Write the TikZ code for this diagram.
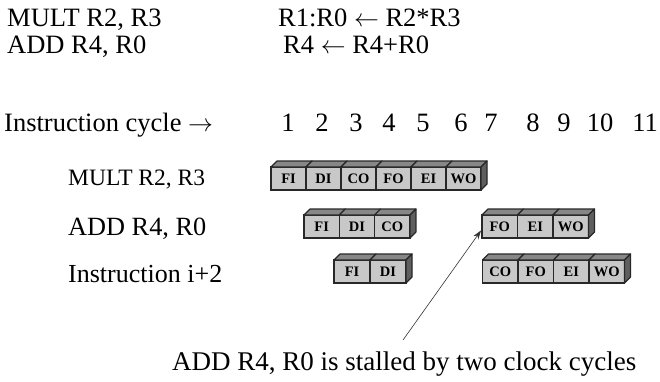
\documentclass[tikz,border=0pt]{standalone}
\usepackage{fontspec}
\setmainfont{Liberation Serif}
\usetikzlibrary{arrows.meta,calc}

\definecolor{frontgray}{RGB}{200,200,200}
\definecolor{topgray}{RGB}{135,135,135}
\definecolor{sidegray}{RGB}{95,95,95}
\definecolor{edgegray}{RGB}{40,40,40}

% one row segment of pipeline stage boxes: name, left x, top y, box width, labels
\newcommand\stagerow[5]{%
  \foreach \lab [count=\i] in {#5} {
    \node[stg,minimum width=#4pt] (#1-\i) at ({#2+(\i-1)*#4},#3) {\lab};
    \filldraw[topface] (#1-\i.north west) -- ++(6,-6)
      -- ($(#1-\i.north east)+(6,-6)$) -- (#1-\i.north east) -- cycle;
    \xdef\laststage{#1-\i}
  }
  \filldraw[sideface] (\laststage.north east) -- ++(6,-6)
    -- ($(\laststage.south east)+(6,-6)$) -- (\laststage.south east) -- cycle;
}

\begin{document}
\begin{tikzpicture}[x=1pt,y=-1pt,
  txt/.style={anchor=base west,inner sep=0pt,font=\fontsize{26.5}{30}\selectfont},
  num/.style={anchor=base,inner sep=0pt,font=\fontsize{26.5}{30}\selectfont},
  stg/.style={draw=edgegray,line width=1.3pt,fill=frontgray,minimum height=23pt,
    inner sep=0pt,outer sep=0pt,anchor=north west,
    font=\fontsize{14.5}{15}\selectfont\bfseries},
  topface/.style={fill=topgray,draw=edgegray,line width=1.2pt,line join=round},
  sideface/.style={fill=sidegray,draw=edgegray,line width=1.2pt,line join=round},
  stall/.style={draw=black!80,line width=0.6pt,-{Stealth[length=9pt,width=6pt]}}]

\useasboundingbox (0,0) rectangle (660,381);

% program and register transfers
\node[txt] (prog1) at (7,26.7) {MULT R2, R3};
\node[txt] (xfer1) at (278,26.7) {R1:R0 $\leftarrow$ R2*R3};
\node[txt] (prog2) at (7,53.5) {ADD R4, R0};
\node[txt] (xfer2) at (283,53.5) {R4 $\leftarrow$ R4+R0};

% cycle axis
\node[txt] (axis) at (4,131.7) {Instruction cycle $\rightarrow$};
\foreach \n/\xx in {1/288,2/322,3/356,4/389,5/423,6/461,7/491,8/533,9/564,10/600,11/645}
  \node[num] (cyc\n) at (\xx,131.7) {\n};

% instruction labels
\node[txt,font=\fontsize{23.5}{26}\selectfont] (lab1) at (68,185) {MULT R2, R3};
\node[txt,font=\fontsize{26.3}{30}\selectfont] (lab2) at (68,235) {ADD R4, R0};
\node[txt,font=\fontsize{26}{30}\selectfont] (lab3) at (68,282.7) {Instruction i+2};

% pipeline stages
\stagerow{mul}{271}{167}{35}{FI,DI,CO,FO,EI,WO}
\stagerow{adda}{304}{215}{35.3}{FI,DI,CO}
\stagerow{addb}{482}{215}{35.5}{FO,EI,WO}
\stagerow{nxta}{334}{260}{36}{FI,DI}
\stagerow{nxtb}{482.5}{260}{35.5}{CO,FO,EI,WO}

% stall annotation
\node[txt,font=\fontsize{27}{30}\selectfont] (note) at (172,370) {ADD R4, R0 is stalled by two clock cycles};
\coordinate (notetail) at (403,340);
\draw[stall] (notetail) -- ($(addb-1.west)+(-1,4)$);

\end{tikzpicture}
\end{document}
